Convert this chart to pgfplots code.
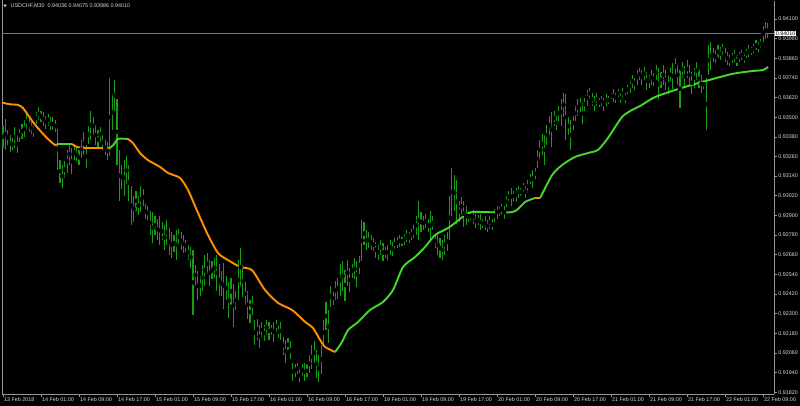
\documentclass[border=0pt]{standalone}
\usepackage{fontspec}
\setmainfont{Liberation Sans}
\usepackage{pgfplots}
\pgfplotsset{compat=1.18}
\definecolor{barcol}{RGB}{22,158,22}
\definecolor{maorange}{RGB}{255,145,0}
\definecolor{magreen}{RGB}{70,215,45}
\definecolor{axgray}{RGB}{150,150,150}
\definecolor{txtgray}{RGB}{215,215,215}
\definecolor{pricegray}{RGB}{120,120,120}
\newcommand{\chartfont}{\fontsize{5.4}{6}\selectfont}
\begin{document}
\begin{tikzpicture}[x=1pt,y=1pt]
\fill[black] (0,0) rectangle (800,406);
\useasboundingbox (0,0) rectangle (800,406);
\draw[axgray, line width=0.8pt] (2,12) -- (2,406);
\begin{axis}[
  at={(2pt,12pt)}, anchor=south west,
  scale only axis, width=772pt, height=393pt,
  xmin=-0.42, xmax=324.6,
  ymin=0.918087, ymax=0.942099,
  axis x line*=bottom, axis y line*=right,
  axis line style={axgray, line width=0.8pt, -},
  tick align=outside,
  major tick length=3pt,
  tick style={axgray, line width=0.6pt},
  xtick={0,16,32,48,64,80,96,112,128,144,160,176,192,208,224,240,256,272,288,304,320},
  xticklabels={13 Feb 2018,14 Feb 01:00,14 Feb 09:00,14 Feb 17:00,15 Feb 01:00,15 Feb 09:00,15 Feb 17:00,16 Feb 01:00,16 Feb 09:00,16 Feb 17:00,19 Feb 01:00,19 Feb 09:00,19 Feb 17:00,20 Feb 01:00,20 Feb 09:00,20 Feb 17:00,21 Feb 01:00,21 Feb 09:00,21 Feb 17:00,22 Feb 01:00,22 Feb 09:00},
  ytick={0.9182,0.9194,0.9206,0.9218,0.923,0.9242,0.9254,0.9266,0.9278,0.929,0.9302,0.9314,0.9326,0.9338,0.935,0.9362,0.9374,0.9386,0.9398,0.941},
  yticklabels={0.91820,0.91940,0.92060,0.92180,0.92300,0.92420,0.92540,0.92660,0.92780,0.92900,0.93020,0.93140,0.93260,0.93380,0.93500,0.93620,0.93740,0.93860,0.93980,0.94100},
  xticklabel style={font=\chartfont, text=txtgray, anchor=north west, inner sep=0.6pt, xshift=0.3pt},
  yticklabel style={font=\chartfont, text=txtgray, anchor=west, inner sep=0.6pt, xshift=0.5pt},
  clip=true,
]
% current price line
\addplot[pricegray, line width=0.7pt, forget plot] coordinates {(-0.42,0.9401) (324.6,0.9401)};
% bars: index, high, low
\addplot[only marks, mark=none, forget plot,
  error bars/.cd, y dir=both, y explicit, error mark=none,
  error bar style={barcol, line width=1.1pt}]
  table[x=i, y expr={(\thisrow{hi}+\thisrow{lo})/2}, y error expr={(\thisrow{hi}-\thisrow{lo})/2}] {
i hi lo
0 0.9345 0.9331
1 0.9349 0.9330
2 0.9342 0.9333
3 0.9339 0.9329
4 0.9337 0.9330
5 0.9344 0.9331
6 0.9339 0.9328
7 0.9343 0.9335
8 0.9346 0.9337
9 0.9348 0.9338
10 0.9353 0.9342
11 0.9350 0.9341
12 0.9347 0.9340
13 0.9345 0.9338
14 0.9353 0.9346
15 0.9356 0.9348
16 0.9354 0.9347
17 0.9353 0.9345
18 0.9351 0.9343
19 0.9352 0.9345
20 0.9350 0.9342
21 0.9350 0.9342
22 0.9348 0.9341
23 0.9343 0.9318
24 0.9324 0.9310
25 0.9321 0.9307
26 0.9323 0.9313
27 0.9330 0.9316
28 0.9334 0.9321
29 0.9331 0.9315
30 0.9333 0.9324
31 0.9331 0.9323
32 0.9330 0.9321
33 0.9336 0.9325
34 0.9341 0.9327
35 0.9333 0.9319
36 0.9345 0.9334
37 0.9354 0.9336
38 0.9350 0.9339
39 0.9345 0.9333
40 0.9342 0.9331
41 0.9344 0.9335
42 0.9339 0.9330
43 0.9336 0.9327
44 0.9335 0.9324
45 0.9374 0.9326
46 0.9364 0.9342
47 0.9373 0.9354
48 0.9361 0.9321
49 0.9330 0.9299
50 0.9321 0.9306
51 0.9324 0.9302
52 0.9326 0.9309
53 0.9321 0.9299
54 0.9308 0.9284
55 0.9302 0.9286
56 0.9305 0.9293
57 0.9302 0.9290
58 0.9308 0.9292
59 0.9306 0.9296
60 0.9297 0.9288
61 0.9296 0.9287
62 0.9293 0.9278
63 0.9292 0.9273
64 0.9290 0.9278
65 0.9288 0.9275
66 0.9290 0.9272
67 0.9286 0.9275
68 0.9284 0.9269
69 0.9287 0.9272
70 0.9282 0.9266
71 0.9280 0.9264
72 0.9278 0.9268
73 0.9281 0.9263
74 0.9282 0.9272
75 0.9280 0.9269
76 0.9278 0.9267
77 0.9275 0.9268
78 0.9272 0.9263
79 0.9271 0.9258
80 0.9269 0.9229
81 0.9260 0.9247
82 0.9256 0.9238
83 0.9253 0.9241
84 0.9260 0.9244
85 0.9266 0.9247
86 0.9267 0.9254
87 0.9263 0.9247
88 0.9262 0.9251
89 0.9264 0.9252
90 0.9266 0.9244
91 0.9260 0.9241
92 0.9256 0.9241
93 0.9261 0.9233
94 0.9253 0.9238
95 0.9249 0.9227
96 0.9252 0.9235
97 0.9248 0.9222
98 0.9244 0.9232
99 0.9263 0.9238
100 0.9270 0.9247
101 0.9260 0.9240
102 0.9249 0.9235
103 0.9244 0.9227
104 0.9238 0.9224
105 0.9241 0.9229
106 0.9226 0.9211
107 0.9227 0.9214
108 0.9223 0.9209
109 0.9225 0.9215
110 0.9223 0.9213
111 0.9226 0.9217
112 0.9225 0.9214
113 0.9223 0.9217
114 0.9225 0.9213
115 0.9226 0.9219
116 0.9223 0.9215
117 0.9225 0.9214
118 0.9216 0.9205
119 0.9214 0.9200
120 0.9215 0.9207
121 0.9213 0.9202
122 0.9200 0.9189
123 0.9199 0.9191
124 0.9200 0.9193
125 0.9197 0.9188
126 0.9199 0.9192
127 0.9200 0.9189
128 0.9199 0.9191
129 0.9205 0.9194
130 0.9211 0.9196
131 0.9213 0.9199
132 0.9208 0.9191
133 0.9205 0.9188
134 0.9211 0.9193
135 0.9226 0.9211
136 0.9237 0.9220
137 0.9232 0.9212
138 0.9247 0.9234
139 0.9244 0.9235
140 0.9250 0.9238
141 0.9252 0.9239
142 0.9260 0.9241
143 0.9262 0.9244
144 0.9257 0.9238
145 0.9263 0.9247
146 0.9258 0.9243
147 0.9260 0.9252
148 0.9264 0.9251
149 0.9262 0.9246
150 0.9265 0.9254
151 0.9287 0.9262
152 0.9286 0.9272
153 0.9281 0.9269
154 0.9280 0.9270
155 0.9278 0.9269
156 0.9276 0.9268
157 0.9274 0.9264
158 0.9272 0.9263
159 0.9275 0.9266
160 0.9273 0.9262
161 0.9271 0.9264
162 0.9272 0.9263
163 0.9275 0.9266
164 0.9274 0.9265
165 0.9276 0.9269
166 0.9277 0.9270
167 0.9278 0.9271
168 0.9277 0.9271
169 0.9279 0.9272
170 0.9281 0.9274
171 0.9280 0.9273
172 0.9282 0.9275
173 0.9284 0.9276
174 0.9290 0.9278
175 0.9299 0.9275
176 0.9292 0.9280
177 0.9290 0.9281
178 0.9291 0.9282
179 0.9288 0.9280
180 0.9293 0.9275
181 0.9290 0.9281
182 0.9279 0.9270
183 0.9278 0.9266
184 0.9276 0.9264
185 0.9275 0.9263
186 0.9278 0.9266
187 0.9280 0.9268
188 0.9302 0.9275
189 0.9319 0.9290
190 0.9315 0.9293
191 0.9312 0.9285
192 0.9299 0.9286
193 0.9301 0.9290
194 0.9299 0.9283
195 0.9296 0.9284
196 0.9293 0.9286
197 0.9292 0.9287
198 0.9293 0.9285
199 0.9291 0.9282
200 0.9290 0.9284
201 0.9291 0.9281
202 0.9288 0.9282
203 0.9290 0.9281
204 0.9287 0.9280
205 0.9290 0.9282
206 0.9288 0.9281
207 0.9294 0.9286
208 0.9296 0.9288
209 0.9295 0.9290
210 0.9297 0.9291
211 0.9296 0.9288
212 0.9302 0.9295
213 0.9305 0.9298
214 0.9307 0.9296
215 0.9305 0.9299
216 0.9307 0.9298
217 0.9308 0.9301
218 0.9307 0.9302
219 0.9310 0.9304
220 0.9308 0.9301
221 0.9312 0.9304
222 0.9315 0.9309
223 0.9318 0.9307
224 0.9319 0.9312
225 0.9330 0.9319
226 0.9336 0.9324
227 0.9340 0.9327
228 0.9339 0.9321
229 0.9345 0.9333
230 0.9351 0.9339
231 0.9353 0.9332
232 0.9354 0.9345
233 0.9351 0.9342
234 0.9357 0.9348
235 0.9361 0.9345
236 0.9365 0.9350
237 0.9364 0.9336
238 0.9350 0.9339
239 0.9348 0.9330
240 0.9351 0.9342
241 0.9357 0.9348
242 0.9361 0.9351
243 0.9362 0.9353
244 0.9359 0.9346
245 0.9362 0.9354
246 0.9367 0.9357
247 0.9368 0.9361
248 0.9365 0.9357
249 0.9363 0.9354
250 0.9365 0.9357
251 0.9362 0.9356
252 0.9363 0.9357
253 0.9362 0.9354
254 0.9364 0.9357
255 0.9363 0.9358
256 0.9365 0.9361
257 0.9367 0.9359
258 0.9365 0.9359
259 0.9367 0.9362
260 0.9365 0.9359
261 0.9368 0.9361
262 0.9365 0.9359
263 0.9370 0.9364
264 0.9373 0.9365
265 0.9376 0.9368
266 0.9374 0.9367
267 0.9379 0.9370
268 0.9380 0.9373
269 0.9379 0.9370
270 0.9381 0.9372
271 0.9378 0.9367
272 0.9376 0.9368
273 0.9379 0.9370
274 0.9377 0.9369
275 0.9382 0.9373
276 0.9380 0.9361
277 0.9378 0.9368
278 0.9382 0.9370
279 0.9379 0.9367
280 0.9376 0.9364
281 0.9380 0.9372
282 0.9383 0.9367
283 0.9386 0.9376
284 0.9382 0.9370
285 0.9379 0.9356
286 0.9384 0.9374
287 0.9381 0.9369
288 0.9385 0.9374
289 0.9382 0.9370
290 0.9378 0.9364
291 0.9380 0.9368
292 0.9384 0.9373
293 0.9379 0.9368
294 0.9376 0.9365
295 0.9373 0.9367
296 0.9374 0.9342
297 0.9394 0.9376
298 0.9396 0.9379
299 0.9392 0.9384
300 0.9391 0.9383
301 0.9394 0.9386
302 0.9393 0.9385
303 0.9395 0.9388
304 0.9392 0.9384
305 0.9390 0.9382
306 0.9388 0.9381
307 0.9389 0.9383
308 0.9391 0.9384
309 0.9388 0.9381
310 0.9390 0.9384
311 0.9391 0.9385
312 0.9389 0.9383
313 0.9392 0.9386
314 0.9394 0.9387
315 0.9393 0.9388
316 0.9395 0.9389
317 0.9397 0.9391
318 0.9396 0.9390
319 0.9398 0.9392
320 0.9406 0.9396
321 0.9408 0.9398
322 0.94075 0.93986
};
% moving average, coloured by direction
\addplot[maorange, line width=1.9pt, smooth, tension=0.4, line join=round] coordinates {
(-0.4,0.93589)(2.9,0.93579)(6.3,0.93575)(8.4,0.93556)(11.4,0.93495)(14.3,0.93440)(18.5,0.93373)(21.9,0.93330)(22.7,0.93336)};
\addplot[magreen, line width=1.9pt, line join=round] coordinates {(22.7,0.93336)(29.1,0.93336)};
\addplot[maorange, line width=1.9pt, smooth, tension=0.4, line join=round] coordinates {
(29.1,0.93336)(31.2,0.93318)(34.5,0.93312)(44.9,0.93312)};
\addplot[magreen, line width=1.9pt, smooth, tension=0.4, line join=round] coordinates {
(44.9,0.93312)(46.5,0.93330)(48.4,0.93367)(52.6,0.93367)};
\addplot[maorange, line width=1.9pt, smooth, tension=0.4, line join=round] coordinates {
(52.6,0.93367)(54.7,0.93342)(57.7,0.93281)(61,0.93238)(66.1,0.93196)(69.5,0.93159)(74.5,0.93129)(77.9,0.93055)(82.1,0.92915)(86.3,0.92780)(90.5,0.92670)(94.7,0.92627)(99.8,0.92585)(104.8,0.92566)(110.3,0.92444)(115.8,0.92365)(121.7,0.92322)(127.2,0.92249)(130.5,0.92212)(133.5,0.92139)(135.6,0.92096)(139.8,0.92065)};
\addplot[magreen, line width=1.9pt, smooth, tension=0.4, line join=round] coordinates {
(139.8,0.92065)(142.7,0.92126)(145.3,0.92200)(149.5,0.92249)(154.5,0.92322)(160,0.92371)(164.2,0.92444)(168.4,0.92585)(173.5,0.92646)(177.7,0.92707)(181.9,0.92780)(187.4,0.92823)(190.3,0.92854)(194.5,0.92902)(197.5,0.92921)(200.8,0.92921)(214.7,0.92921)(219.8,0.92982)(224,0.93006)};
\addplot[maorange, line width=1.9pt] coordinates {(224,0.93006)(226.1,0.93006)};
\addplot[magreen, line width=1.9pt, smooth, tension=0.4, line join=round] coordinates {
(226.1,0.93006)(231.2,0.93147)(235.4,0.93208)(240.8,0.93257)(246.3,0.93281)(250.5,0.93300)(254.7,0.93373)(260.6,0.93501)(264.8,0.93544)(268.2,0.93568)(274.5,0.93623)(284.2,0.93672)(294.3,0.93715)(306.9,0.93764)(315.4,0.93782)(320,0.93788)(322.1,0.93807)};
\end{axis}
% price box
\node[anchor=west, fill=white, text=black, inner sep=0.7pt, font=\chartfont] at (775,372.3) {0.94010};
% header
\fill[txtgray] (3.3,401.4) -- (6.9,401.4) -- (5.1,398.9) -- cycle;
\node[anchor=west, inner sep=0pt, text=txtgray, font=\chartfont] at (10.5,400.3) {USDCHF,M30\ \ 0.94036 0.94075 0.93986 0.94010};
\end{tikzpicture}
\end{document}
